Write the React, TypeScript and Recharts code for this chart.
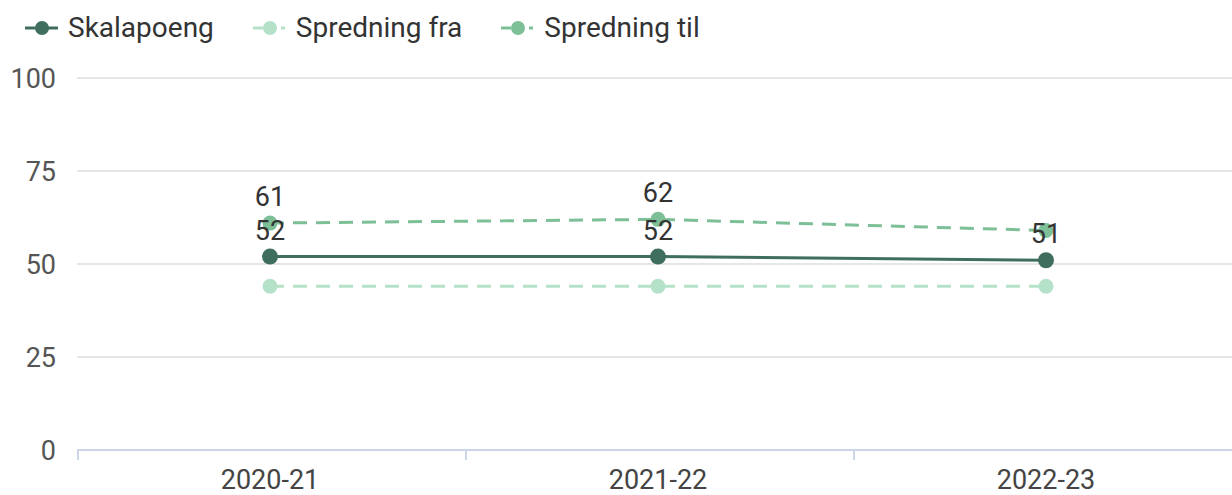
import { CartesianGrid, LabelList, Line, LineChart, XAxis, YAxis } from 'recharts'

// categories and series
const years = ['2020-21', '2021-22', '2022-23']
const skalapoeng = [52, 52, 51]
const spredningFra = [44, 44, 44]
const spredningTil = [61, 62, 59]
// data labels that the original chart hides (overlap)
const tilHiddenLabels = [2]
const yTicks = [0, 25, 50, 75, 100]

const series = [
	{ key: 'skalapoeng', name: 'Skalapoeng', color: '#3f6e5e', dashed: false },
	{ key: 'fra', name: 'Spredning fra', color: '#b5e1c8', dashed: true },
	{ key: 'til', name: 'Spredning til', color: '#7dbf97', dashed: true },
]

const data = years.map((year, i) => ({
	year,
	skalapoeng: skalapoeng[i],
	fra: spredningFra[i],
	til: spredningTil[i],
}))

const FONT = 'Roboto, sans-serif'
const FS = 27
const TICK_OFFSET = 192

const CustomLegend = () => (
	<div style={{ position: 'absolute', left: 25, top: 12, display: 'flex', alignItems: 'center', fontFamily: FONT, fontSize: 28, color: '#333', lineHeight: '32px' }}>
		{series.map((s) => (
			<div key={s.key} style={{ display: 'flex', alignItems: 'center', marginRight: 39 }}>
				<svg width={34} height={18} style={{ marginRight: 9 }}>
					{s.dashed ? (
						<>
							<line x1={0} y1={9} x2={10} y2={9} stroke={s.color} strokeWidth={3} />
							<line x1={28} y1={9} x2={32} y2={9} stroke={s.color} strokeWidth={3} />
						</>
					) : (
						<line x1={0} y1={9} x2={33} y2={9} stroke={s.color} strokeWidth={3} />
					)}
					<circle cx={17} cy={9} r={7} fill={s.color} />
				</svg>
				<span>{s.name}</span>
			</div>
		))}
	</div>
)

const XTick = (props: any) => {
	const { x, y, payload } = props
	return (
		<g>
			<line x1={x - TICK_OFFSET} y1={y} x2={x - TICK_OFFSET} y2={y + 10} stroke='#ccd6eb' strokeWidth={2} />
			<text x={x} y={y + 39} textAnchor='middle' fill='#444' fontSize={FS} fontFamily={FONT}>
				{payload.value}
			</text>
		</g>
	)
}

const YTick = (props: any) => {
	const { x, y, payload } = props
	return (
		<text x={x} y={y + 10} textAnchor='end' fill='#555' fontSize={FS} fontFamily={FONT}>
			{payload.value}
		</text>
	)
}

const makeLabel = (hidden: number[]) => (props: any) => {
	const { x, y, value, index } = props
	if (hidden.includes(index)) return null
	return (
		<text x={x} y={y - 17} textAnchor='middle' fill='#333' fontSize={FS} fontFamily={FONT}>
			{value}
		</text>
	)
}

export default function App() {
	return (
		<div style={{ position: 'absolute', left: 0, top: 0, width: 1232, height: 495, overflow: 'hidden', background: '#fff' }}>
			<CustomLegend />
			<LineChart width={1246} height={495} data={data} margin={{ top: 78, right: 5, bottom: 0, left: 0 }}>
				<CartesianGrid vertical={false} stroke='#e6e6e6' strokeWidth={2} />
				<XAxis dataKey='year' height={45} padding={{ left: 193, right: 195 }} tickLine={false} tickSize={0} tickMargin={0} axisLine={{ stroke: '#ccd6eb', strokeWidth: 2 }} tick={<XTick />} interval={0} />
				<YAxis width={77} domain={[0, 100]} ticks={yTicks} axisLine={false} tickLine={false} tickSize={0} tickMargin={21} tick={<YTick />} />
				<Line dataKey='fra' name='Spredning fra' stroke='#b5e1c8' strokeWidth={3} strokeDasharray='14 9' dot={{ r: 7.5, fill: '#b5e1c8', stroke: 'none' }} activeDot={false} isAnimationActive={false} />
				<Line dataKey='til' name='Spredning til' stroke='#7dbf97' strokeWidth={3} strokeDasharray='14 9' dot={{ r: 7.5, fill: '#7dbf97', stroke: 'none' }} activeDot={false} isAnimationActive={false}>
					<LabelList dataKey='til' content={makeLabel(tilHiddenLabels)} />
				</Line>
				<Line dataKey='skalapoeng' name='Skalapoeng' stroke='#3f6e5e' strokeWidth={3} dot={{ r: 8, fill: '#3f6e5e', stroke: 'none' }} activeDot={false} isAnimationActive={false}>
					<LabelList dataKey='skalapoeng' content={makeLabel([])} />
				</Line>
			</LineChart>
		</div>
	)
}
